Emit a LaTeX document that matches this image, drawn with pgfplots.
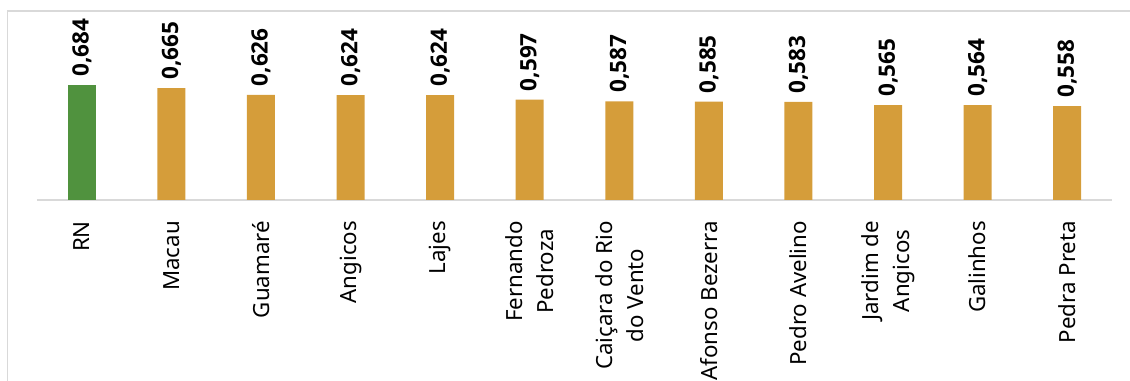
\documentclass[border=0pt]{standalone}
\usepackage{fontspec}
\setmainfont{Noto Sans}
\newfontfamily\numfont{Open Sans}
\usepackage{pgfplots}
\pgfplotsset{compat=1.18}
\definecolor{rnGreen}{RGB}{80,146,62}
\definecolor{barGold}{RGB}{213,157,58}
\definecolor{frameGray}{RGB}{217,217,217}
\begin{document}
\begin{tikzpicture}
\useasboundingbox (0,0) rectangle (452pt,152.4pt);
\clip (0,0) rectangle (452pt,152.4pt);
% chart frame (only left and top edges fall inside the picture)
\draw[frameGray, line width=0.55pt] (3pt,-20pt) -- (3pt,148pt) -- (470pt,148pt);
\begin{axis}[
  at={(14.8pt,72.4pt)}, anchor=south west,
  scale only axis, width=430pt, height=67.24pt,
  xmin=-0.5, xmax=11.5, ymin=0, ymax=1,
  ybar, bar width=11.2pt,
  axis y line=none, axis x line*=bottom,
  x axis line style={draw=frameGray, line width=0.8pt},
  xtick={0,...,11}, xtick style={draw=none},
  xticklabels={RN, Macau, Guamaré, Angicos, Lajes, {Fernando\\Pedroza},
    {Caiçara do Rio\\do Vento}, Afonso Bezerra, Pedro Avelino,
    {Jardim de\\Angicos}, Galinhos, Pedra Preta},
  xticklabel style={yshift=-4pt, rotate=90, anchor=east, align=center,
    inner sep=0pt, font=\fontsize{8.9}{12.4}\selectfont},
  nodes near coords,
  every node near coord/.append style={rotate=90, anchor=west,
    inner xsep=2.6pt, inner ysep=0pt, xshift=0.6pt,
    font=\fontsize{9}{11}\selectfont\numfont\bfseries, black},
  /pgf/number format/.cd, fixed, fixed zerofill, precision=3, use comma,
    assume math mode=true,
  /pgfplots/.cd,
  clip=false,
]
\addplot[fill=rnGreen, draw=none, bar shift=0pt] coordinates {(0,0.684)};
\addplot[fill=barGold, draw=none, bar shift=0pt] coordinates {
  (1,0.665) (2,0.626) (3,0.624) (4,0.624) (5,0.597) (6,0.587)
  (7,0.585) (8,0.583) (9,0.565) (10,0.564) (11,0.558)};
\end{axis}
\end{tikzpicture}
\end{document}
